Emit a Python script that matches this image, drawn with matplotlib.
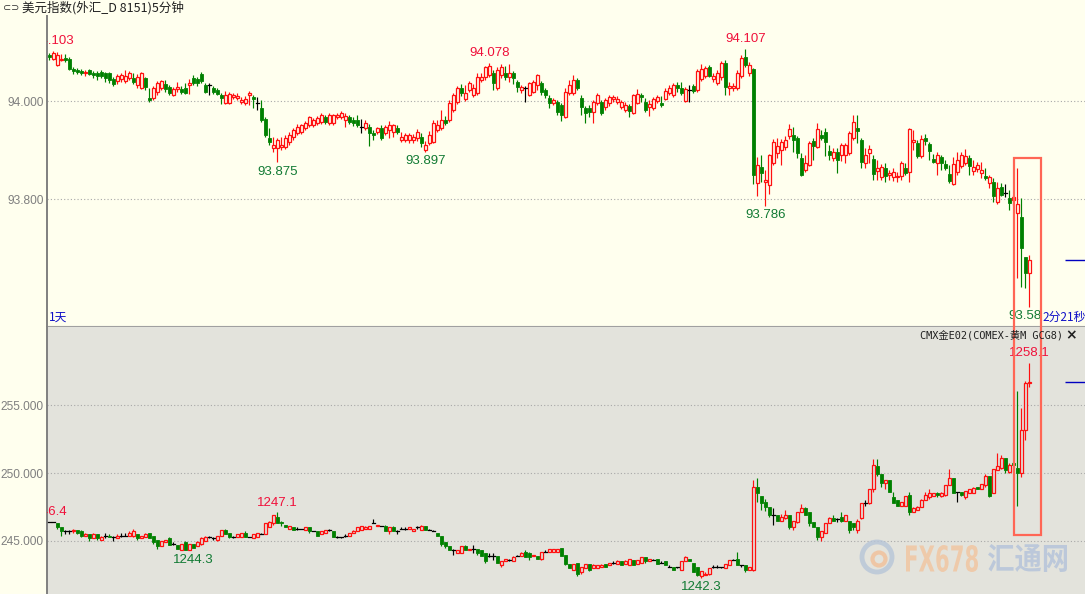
import numpy as np
import matplotlib.pyplot as plt
from matplotlib.patches import Rectangle, Ellipse, PathPatch
from matplotlib.collections import LineCollection
from matplotlib.transforms import offset_copy, Affine2D, IdentityTransform
from matplotlib.textpath import TextPath
from matplotlib.font_manager import FontProperties

plt.rcParams['font.family'] = ['Liberation Sans', 'DejaVu Sans']

W, H = 1085, 594
CJK = ['Noto Sans CJK SC', 'DejaVu Sans']
MONO = ['DejaVu Sans Mono', 'Noto Sans CJK SC']
RED = '#FF1010'
GREEN = '#008000'
TOP_BG = '#FFFFEE'
BOT_BG = '#E3E3DC'

# ---- US dollar index, 5 min candles ----
dxy_open = [
    94.094, 94.086, 94.073, 94.084, 94.088, 94.086, 94.065, 94.063, 94.061, 94.057,
    94.063, 94.057, 94.057, 94.059, 94.057, 94.057, 94.045, 94.041, 94.045, 94.041,
    94.047, 94.047, 94.033, 94.027, 94.047, 94.006, 94.006, 94.018, 94.027, 94.035,
    94.029, 94.012, 94.024, 94.024, 94.027, 94.033, 94.047, 94.045, 94.055, 94.033,
    94.033, 94.027, 94.022, 94.012, 93.996, 93.996, 94.008, 94.006, 93.998, 93.996,
    94.012, 94.008, 93.996, 93.986, 93.963, 93.924, 93.904, 93.904, 93.906, 93.906,
    93.916, 93.927, 93.935, 93.937, 93.945, 93.951, 93.951, 93.955, 93.957, 93.967,
    93.955, 93.955, 93.967, 93.967, 93.961, 93.967, 93.961, 93.961, 93.947, 93.945,
    93.947, 93.935, 93.937, 93.945, 93.935, 93.941, 93.937, 93.945, 93.920, 93.920,
    93.920, 93.920, 93.924, 93.927, 93.900, 93.914, 93.916, 93.941, 93.945, 93.961,
    93.961, 93.982, 93.998, 94.027, 94.004, 94.022, 94.012, 94.016, 94.043, 94.049,
    94.053, 94.057, 94.027, 94.053, 94.057, 94.049, 94.057, 94.039, 94.022, 94.027,
    94.012, 94.018, 94.033, 94.037, 94.022, 94.006, 93.996, 93.998, 93.992, 93.967,
    94.016, 94.016, 94.043, 94.006, 93.986, 93.986, 93.978, 93.996, 93.998, 93.988,
    93.996, 94.004, 93.998, 93.988, 93.982, 93.990, 93.976, 93.996, 94.012, 93.998,
    93.988, 93.986, 94.000, 93.996, 94.004, 94.016, 94.012, 94.033, 94.027, 94.000,
    94.022, 94.031, 94.022, 94.045, 94.051, 94.069, 94.045, 94.037, 94.049, 94.077,
    94.027, 94.027, 94.027, 94.051, 94.090, 94.057, 94.065, 93.833, 93.865, 93.835,
    93.829, 93.873, 93.894, 93.900, 93.906, 93.929, 93.931, 93.924, 93.884, 93.859,
    93.869, 93.918, 93.906, 93.931, 93.937, 93.898, 93.884, 93.896, 93.890, 93.890,
    93.894, 93.924, 93.945, 93.920, 93.873, 93.894, 93.882, 93.857, 93.845, 93.863,
    93.849, 93.845, 93.845, 93.847, 93.863, 93.855, 93.916, 93.914, 93.888, 93.924,
    93.912, 93.882, 93.873, 93.886, 93.871, 93.851, 93.831, 93.855, 93.867, 93.873,
    93.884, 93.857, 93.861, 93.853, 93.847, 93.833, 93.835, 93.794, 93.824, 93.812,
    93.802, 93.798, 93.772, 93.763, 93.682, 93.649,
]
dxy_close = [
    94.090, 94.098, 94.094, 94.086, 94.084, 94.065, 94.061, 94.059, 94.057, 94.059,
    94.055, 94.053, 94.051, 94.051, 94.047, 94.043, 94.035, 94.051, 94.053, 94.051,
    94.057, 94.039, 94.049, 94.057, 94.029, 94.002, 94.027, 94.037, 94.041, 94.024,
    94.016, 94.024, 94.029, 94.018, 94.016, 94.037, 94.037, 94.037, 94.041, 94.018,
    94.033, 94.018, 94.014, 94.006, 94.012, 94.014, 94.012, 94.010, 94.002, 94.004,
    94.016, 94.004, 93.996, 93.961, 93.931, 93.916, 93.910, 93.920, 93.910, 93.924,
    93.931, 93.941, 93.947, 93.951, 93.955, 93.967, 93.961, 93.965, 93.971, 93.957,
    93.971, 93.971, 93.971, 93.976, 93.969, 93.957, 93.955, 93.951, 93.947, 93.955,
    93.935, 93.931, 93.945, 93.924, 93.947, 93.951, 93.951, 93.937, 93.927, 93.931,
    93.931, 93.927, 93.937, 93.914, 93.910, 93.931, 93.955, 93.951, 93.961, 93.955,
    93.996, 94.012, 94.027, 94.016, 94.016, 94.037, 94.027, 94.049, 94.049, 94.069,
    94.071, 94.037, 94.063, 94.069, 94.049, 94.057, 94.047, 94.029, 94.029, 94.027,
    94.037, 94.039, 94.053, 94.018, 94.012, 93.996, 94.002, 93.978, 93.971, 94.018,
    94.033, 94.043, 94.027, 93.988, 93.976, 93.978, 93.998, 94.012, 93.976, 94.002,
    94.008, 94.008, 94.004, 93.998, 93.992, 93.980, 94.012, 94.014, 94.008, 93.982,
    93.994, 94.004, 94.008, 93.992, 94.020, 94.027, 94.033, 94.027, 94.016, 94.024,
    94.022, 94.020, 94.061, 94.065, 94.067, 94.051, 94.051, 94.057, 94.077, 94.029,
    94.031, 94.031, 94.057, 94.088, 94.073, 94.073, 93.849, 93.869, 93.853, 93.839,
    93.890, 93.916, 93.908, 93.916, 93.920, 93.943, 93.920, 93.894, 93.849, 93.873,
    93.914, 93.908, 93.943, 93.924, 93.916, 93.890, 93.896, 93.880, 93.910, 93.910,
    93.935, 93.957, 93.939, 93.875, 93.890, 93.902, 93.851, 93.863, 93.865, 93.847,
    93.853, 93.855, 93.847, 93.873, 93.853, 93.943, 93.920, 93.888, 93.922, 93.918,
    93.898, 93.875, 93.890, 93.873, 93.863, 93.837, 93.871, 93.880, 93.890, 93.888,
    93.867, 93.865, 93.869, 93.859, 93.843, 93.845, 93.806, 93.822, 93.808, 93.812,
    93.792, 93.804, 93.790, 93.700, 93.649, 93.676,
]
dxy_high = [
    94.098, 94.103, 94.100, 94.096, 94.096, 94.090, 94.069, 94.067, 94.065, 94.063,
    94.065, 94.061, 94.061, 94.063, 94.059, 94.059, 94.049, 94.055, 94.057, 94.063,
    94.061, 94.057, 94.055, 94.059, 94.049, 94.027, 94.031, 94.041, 94.043, 94.043,
    94.033, 94.029, 94.039, 94.031, 94.037, 94.045, 94.053, 94.049, 94.059, 94.037,
    94.037, 94.031, 94.027, 94.016, 94.020, 94.018, 94.016, 94.016, 94.008, 94.010,
    94.020, 94.012, 94.008, 94.002, 93.967, 93.945, 93.927, 93.924, 93.927, 93.931,
    93.937, 93.945, 93.953, 93.953, 93.959, 93.969, 93.965, 93.969, 93.976, 93.971,
    93.976, 93.973, 93.976, 93.980, 93.976, 93.971, 93.967, 93.971, 93.963, 93.961,
    93.953, 93.941, 93.947, 93.951, 93.951, 93.959, 93.953, 93.951, 93.937, 93.935,
    93.935, 93.933, 93.943, 93.935, 93.918, 93.939, 93.961, 93.961, 93.982, 93.969,
    94.002, 94.016, 94.031, 94.035, 94.033, 94.041, 94.035, 94.057, 94.057, 94.071,
    94.078, 94.063, 94.069, 94.075, 94.071, 94.075, 94.061, 94.043, 94.033, 94.031,
    94.039, 94.043, 94.055, 94.041, 94.027, 94.012, 94.006, 94.002, 93.996, 94.027,
    94.043, 94.053, 94.047, 94.012, 93.990, 93.992, 94.002, 94.016, 94.002, 94.006,
    94.012, 94.012, 94.010, 94.002, 93.998, 93.994, 94.014, 94.024, 94.016, 94.006,
    94.002, 94.008, 94.012, 94.010, 94.027, 94.033, 94.037, 94.039, 94.039, 94.029,
    94.033, 94.035, 94.065, 94.075, 94.071, 94.073, 94.057, 94.063, 94.082, 94.084,
    94.039, 94.037, 94.063, 94.094, 94.107, 94.080, 94.067, 93.886, 93.890, 93.859,
    93.892, 93.922, 93.924, 93.922, 93.929, 93.953, 93.947, 93.929, 93.894, 93.890,
    93.918, 93.924, 93.955, 93.941, 93.945, 93.910, 93.904, 93.904, 93.914, 93.914,
    93.939, 93.971, 93.971, 93.924, 93.904, 93.910, 93.890, 93.880, 93.871, 93.873,
    93.859, 93.863, 93.855, 93.878, 93.873, 93.945, 93.941, 93.920, 93.931, 93.933,
    93.916, 93.892, 93.896, 93.890, 93.880, 93.869, 93.886, 93.896, 93.896, 93.902,
    93.890, 93.880, 93.875, 93.875, 93.863, 93.849, 93.843, 93.835, 93.833, 93.831,
    93.818, 93.808, 93.863, 93.802, 93.682, 93.686,
]
dxy_low = [
    94.084, 94.084, 94.071, 94.082, 94.080, 94.063, 94.055, 94.055, 94.053, 94.051,
    94.053, 94.047, 94.043, 94.047, 94.039, 94.037, 94.031, 94.035, 94.039, 94.037,
    94.043, 94.035, 94.027, 94.024, 94.022, 93.998, 94.002, 94.012, 94.022, 94.018,
    94.012, 94.010, 94.018, 94.014, 94.014, 94.014, 94.033, 94.031, 94.037, 94.016,
    94.012, 94.014, 94.012, 93.994, 93.994, 93.994, 94.004, 94.002, 93.994, 93.992,
    93.992, 93.986, 93.982, 93.957, 93.927, 93.910, 93.896, 93.875, 93.900, 93.902,
    93.910, 93.920, 93.931, 93.933, 93.941, 93.947, 93.947, 93.951, 93.953, 93.953,
    93.951, 93.951, 93.963, 93.963, 93.947, 93.953, 93.949, 93.947, 93.935, 93.941,
    93.908, 93.920, 93.933, 93.920, 93.931, 93.924, 93.927, 93.933, 93.916, 93.916,
    93.914, 93.914, 93.918, 93.906, 93.897, 93.910, 93.914, 93.937, 93.941, 93.951,
    93.957, 93.978, 93.994, 94.010, 94.000, 94.018, 94.008, 94.012, 94.039, 94.043,
    94.049, 94.022, 94.022, 94.047, 94.043, 94.039, 94.035, 94.018, 94.016, 93.998,
    94.010, 94.016, 94.022, 94.012, 94.006, 93.986, 93.992, 93.971, 93.959, 93.965,
    94.012, 94.012, 94.022, 93.971, 93.955, 93.967, 93.955, 93.992, 93.971, 93.982,
    93.990, 93.998, 93.994, 93.984, 93.978, 93.967, 93.973, 93.994, 93.998, 93.978,
    93.969, 93.982, 93.996, 93.988, 94.002, 94.012, 94.008, 94.018, 94.012, 93.998,
    93.998, 94.016, 94.018, 94.041, 94.047, 94.049, 94.039, 94.033, 94.043, 94.012,
    94.012, 94.020, 94.022, 94.047, 94.069, 94.051, 93.831, 93.806, 93.835, 93.786,
    93.810, 93.869, 93.884, 93.869, 93.900, 93.922, 93.896, 93.884, 93.847, 93.855,
    93.867, 93.880, 93.904, 93.920, 93.888, 93.880, 93.878, 93.853, 93.878, 93.873,
    93.890, 93.920, 93.914, 93.863, 93.863, 93.873, 93.839, 93.839, 93.839, 93.835,
    93.839, 93.837, 93.835, 93.839, 93.849, 93.835, 93.900, 93.884, 93.884, 93.910,
    93.880, 93.873, 93.849, 93.859, 93.859, 93.833, 93.829, 93.849, 93.863, 93.869,
    93.849, 93.849, 93.855, 93.843, 93.839, 93.822, 93.794, 93.790, 93.806, 93.804,
    93.778, 93.788, 93.639, 93.621, 93.619, 93.580,
]

# ---- COMEX gold, same 5 min bars ----
gold_open = [
    1246.4, 1246.4, 1246.3, 1246.0, 1245.7, 1245.7, 1245.7, 1245.8, 1245.7, 1245.4,
    1245.5, 1245.2, 1245.5, 1245.1, 1245.4, 1245.4, 1245.3, 1245.2, 1245.4, 1245.4,
    1245.4, 1245.4, 1245.5, 1245.2, 1245.3, 1245.6, 1245.4, 1245.1, 1244.6, 1244.9,
    1245.2, 1244.8, 1244.7, 1244.3, 1244.9, 1244.3, 1244.8, 1244.6, 1244.8, 1245.0,
    1245.3, 1245.2, 1245.1, 1245.4, 1245.8, 1245.6, 1245.3, 1245.3, 1245.3, 1245.6,
    1245.3, 1245.2, 1245.3, 1245.5, 1245.5, 1246.0, 1246.3, 1246.8, 1246.4, 1246.2,
    1245.9, 1246.0, 1245.9, 1245.9, 1245.8, 1246.0, 1245.7, 1245.7, 1245.5, 1245.6,
    1245.8, 1245.7, 1245.3, 1245.3, 1245.4, 1245.4, 1245.6, 1245.7, 1245.8, 1245.9,
    1245.9, 1246.3, 1246.1, 1246.1, 1246.1, 1245.7, 1246.0, 1245.7, 1245.9, 1245.9,
    1245.9, 1245.7, 1246.0, 1245.8, 1246.1, 1245.8, 1245.7, 1245.6, 1245.4, 1244.9,
    1244.6, 1244.3, 1244.1, 1244.1, 1244.6, 1244.3, 1244.4, 1244.4, 1244.3, 1244.1,
    1243.9, 1243.9, 1243.9, 1243.2, 1243.5, 1243.6, 1243.5, 1243.9, 1243.9, 1244.2,
    1244.1, 1243.9, 1243.9, 1243.7, 1244.2, 1244.2, 1244.2, 1244.2, 1244.5, 1244.0,
    1243.3, 1242.9, 1243.4, 1242.7, 1243.0, 1243.3, 1243.0, 1243.0, 1243.1, 1243.3,
    1243.2, 1243.4, 1243.3, 1243.5, 1243.3, 1243.2, 1243.6, 1243.3, 1243.4, 1243.8,
    1243.5, 1243.6, 1243.7, 1243.4, 1243.5, 1243.1, 1243.1, 1243.1, 1242.9, 1243.5,
    1243.7, 1243.4, 1243.1, 1242.4, 1242.5, 1242.6, 1243.1, 1243.1, 1243.1, 1243.0,
    1243.2, 1243.6, 1243.7, 1243.2, 1243.2, 1242.9, 1242.9, 1249.0, 1248.3, 1247.9,
    1247.5, 1246.9, 1246.9, 1246.5, 1246.7, 1246.9, 1246.0, 1246.4, 1247.1, 1247.4,
    1247.1, 1246.4, 1246.0, 1245.3, 1245.6, 1246.3, 1246.7, 1246.6, 1246.8, 1246.5,
    1246.5, 1246.3, 1245.8, 1246.7, 1247.8, 1247.8, 1248.8, 1250.5, 1249.9, 1249.3,
    1249.5, 1248.2, 1248.0, 1247.6, 1247.6, 1248.4, 1247.1, 1247.3, 1247.5, 1248.0,
    1248.2, 1248.3, 1248.5, 1248.3, 1248.4, 1249.1, 1249.6, 1248.6, 1248.6, 1248.2,
    1248.5, 1248.5, 1249.0, 1248.8, 1249.1, 1249.8, 1248.5, 1250.2, 1250.4, 1251.1,
    1250.1, 1250.7, 1250.4, 1250.0, 1253.2, 1256.6,
]
gold_close = [
    1246.4, 1246.4, 1246.0, 1245.7, 1245.7, 1245.7, 1245.8, 1245.6, 1245.4, 1245.5,
    1245.2, 1245.5, 1245.2, 1245.3, 1245.4, 1245.3, 1245.3, 1245.4, 1245.4, 1245.4,
    1245.6, 1245.7, 1245.2, 1245.4, 1245.5, 1245.2, 1244.9, 1244.6, 1245.0, 1245.1,
    1244.7, 1244.8, 1244.4, 1244.8, 1244.3, 1244.8, 1244.5, 1244.9, 1245.2, 1245.3,
    1245.3, 1245.2, 1245.4, 1245.8, 1245.5, 1245.3, 1245.3, 1245.5, 1245.6, 1245.3,
    1245.3, 1245.5, 1245.6, 1245.5, 1246.3, 1246.4, 1246.9, 1246.3, 1246.3, 1246.0,
    1246.1, 1245.8, 1245.9, 1245.9, 1246.0, 1245.7, 1245.7, 1245.4, 1245.7, 1245.8,
    1245.8, 1245.3, 1245.3, 1245.3, 1245.4, 1245.6, 1245.7, 1246.0, 1246.1, 1246.0,
    1246.1, 1246.3, 1246.2, 1246.1, 1245.7, 1246.0, 1245.7, 1245.7, 1245.9, 1245.9,
    1246.0, 1245.9, 1246.0, 1246.1, 1245.8, 1245.8, 1245.7, 1245.4, 1244.8, 1244.6,
    1244.3, 1244.3, 1244.3, 1244.6, 1244.3, 1244.4, 1244.4, 1244.1, 1243.9, 1243.5,
    1243.9, 1243.9, 1243.4, 1243.5, 1243.7, 1243.6, 1243.8, 1243.9, 1244.1, 1243.8,
    1243.8, 1244.0, 1243.7, 1244.2, 1244.2, 1244.4, 1244.4, 1244.4, 1243.9, 1243.3,
    1243.0, 1243.3, 1242.6, 1243.1, 1243.3, 1242.9, 1243.2, 1243.2, 1243.2, 1243.1,
    1243.4, 1243.4, 1243.5, 1243.2, 1243.5, 1243.7, 1243.2, 1243.6, 1243.8, 1243.5,
    1243.7, 1243.6, 1243.3, 1243.4, 1243.2, 1243.1, 1242.9, 1243.1, 1243.5, 1243.8,
    1243.5, 1242.7, 1242.5, 1242.8, 1242.6, 1243.0, 1243.1, 1243.1, 1243.1, 1243.3,
    1243.6, 1243.6, 1243.2, 1243.2, 1242.9, 1243.1, 1249.0, 1248.5, 1247.8, 1247.5,
    1246.9, 1246.9, 1246.5, 1246.8, 1246.9, 1246.0, 1246.5, 1247.1, 1247.4, 1246.9,
    1246.3, 1246.0, 1245.3, 1245.7, 1246.3, 1246.7, 1246.5, 1246.6, 1246.5, 1246.9,
    1245.8, 1246.0, 1246.5, 1247.8, 1247.8, 1248.8, 1250.6, 1249.9, 1249.3, 1249.5,
    1248.6, 1247.8, 1247.6, 1247.9, 1248.3, 1247.1, 1247.4, 1247.5, 1248.0, 1248.4,
    1248.5, 1248.5, 1248.4, 1248.5, 1249.1, 1249.6, 1248.5, 1248.6, 1248.4, 1248.7,
    1248.8, 1248.9, 1248.8, 1249.2, 1249.8, 1248.3, 1250.3, 1250.5, 1251.1, 1250.2,
    1250.6, 1250.6, 1250.0, 1253.2, 1256.6, 1256.7,
]
gold_high = [
    1246.4, 1246.4, 1246.3, 1246.0, 1245.8, 1245.8, 1245.9, 1245.8, 1245.8, 1245.6,
    1245.5, 1245.6, 1245.5, 1245.4, 1245.6, 1245.5, 1245.4, 1245.5, 1245.6, 1245.6,
    1245.7, 1245.9, 1245.5, 1245.4, 1245.6, 1245.6, 1245.4, 1245.1, 1245.0, 1245.1,
    1245.3, 1244.9, 1244.7, 1244.8, 1245.0, 1244.8, 1244.8, 1245.0, 1245.3, 1245.4,
    1245.4, 1245.3, 1245.4, 1245.8, 1245.9, 1245.6, 1245.4, 1245.5, 1245.6, 1245.7,
    1245.3, 1245.5, 1245.6, 1245.6, 1246.3, 1246.5, 1246.9, 1247.1, 1246.5, 1246.2,
    1246.1, 1246.0, 1246.0, 1245.9, 1246.0, 1246.0, 1245.7, 1245.7, 1245.7, 1245.8,
    1245.9, 1245.7, 1245.4, 1245.3, 1245.5, 1245.6, 1245.8, 1246.0, 1246.1, 1246.1,
    1246.1, 1246.6, 1246.2, 1246.1, 1246.2, 1246.0, 1246.1, 1245.8, 1246.0, 1246.0,
    1246.0, 1245.9, 1246.1, 1246.2, 1246.1, 1245.9, 1245.8, 1245.6, 1245.4, 1244.9,
    1244.6, 1244.4, 1244.3, 1244.6, 1244.7, 1244.4, 1244.7, 1244.4, 1244.3, 1244.1,
    1244.1, 1244.1, 1243.9, 1243.5, 1243.7, 1243.7, 1243.9, 1244.0, 1244.2, 1244.3,
    1244.2, 1244.0, 1243.9, 1244.2, 1244.3, 1244.4, 1244.4, 1244.4, 1244.5, 1244.0,
    1243.3, 1243.3, 1243.4, 1243.1, 1243.3, 1243.3, 1243.3, 1243.2, 1243.3, 1243.3,
    1243.4, 1243.5, 1243.6, 1243.5, 1243.6, 1243.7, 1243.6, 1243.6, 1243.8, 1243.8,
    1243.7, 1243.7, 1243.7, 1243.5, 1243.5, 1243.2, 1243.1, 1243.1, 1243.5, 1243.9,
    1243.7, 1243.4, 1243.1, 1242.8, 1242.7, 1243.0, 1243.2, 1243.2, 1243.1, 1243.3,
    1243.6, 1243.7, 1244.2, 1243.2, 1243.2, 1243.1, 1249.5, 1249.6, 1248.3, 1248.1,
    1247.5, 1247.4, 1246.9, 1247.0, 1247.3, 1246.9, 1246.5, 1247.1, 1247.7, 1247.5,
    1247.1, 1246.4, 1246.0, 1245.7, 1246.3, 1246.8, 1246.9, 1246.7, 1247.1, 1246.9,
    1246.5, 1246.3, 1246.6, 1247.8, 1248.0, 1248.8, 1251.0, 1251.0, 1249.9, 1249.5,
    1249.5, 1248.6, 1248.0, 1247.9, 1248.3, 1248.6, 1247.5, 1247.6, 1248.1, 1248.6,
    1248.8, 1248.5, 1248.6, 1248.6, 1249.1, 1250.3, 1249.6, 1248.6, 1248.6, 1248.7,
    1248.8, 1249.0, 1249.0, 1249.2, 1249.9, 1249.8, 1250.3, 1251.5, 1251.3, 1251.1,
    1250.7, 1250.8, 1256.0, 1254.8, 1256.8, 1258.1,
]
gold_low = [
    1246.4, 1246.4, 1245.9, 1245.4, 1245.5, 1245.5, 1245.6, 1245.5, 1245.3, 1245.4,
    1245.0, 1245.2, 1245.1, 1245.1, 1245.2, 1245.3, 1245.0, 1245.2, 1245.3, 1245.4,
    1245.4, 1245.3, 1245.1, 1245.2, 1245.3, 1245.2, 1244.8, 1244.4, 1244.6, 1244.9,
    1244.7, 1244.7, 1244.4, 1244.3, 1244.3, 1244.3, 1244.5, 1244.6, 1244.7, 1245.0,
    1245.2, 1245.1, 1245.0, 1245.4, 1245.5, 1245.2, 1245.2, 1245.3, 1245.3, 1245.3,
    1245.3, 1245.2, 1245.3, 1245.5, 1245.5, 1246.0, 1246.2, 1246.3, 1246.1, 1246.0,
    1245.9, 1245.8, 1245.8, 1245.9, 1245.8, 1245.6, 1245.7, 1245.4, 1245.5, 1245.6,
    1245.7, 1245.3, 1245.2, 1245.2, 1245.3, 1245.4, 1245.6, 1245.7, 1245.8, 1245.9,
    1245.9, 1246.3, 1246.1, 1246.1, 1245.7, 1245.5, 1245.7, 1245.5, 1245.9, 1245.8,
    1245.9, 1245.7, 1245.9, 1245.8, 1245.8, 1245.8, 1245.7, 1245.4, 1244.6, 1244.5,
    1244.3, 1244.0, 1244.1, 1244.1, 1244.3, 1244.3, 1244.1, 1244.0, 1243.9, 1243.4,
    1243.8, 1243.6, 1243.4, 1243.1, 1243.5, 1243.5, 1243.5, 1243.9, 1243.9, 1243.8,
    1243.6, 1243.9, 1243.7, 1243.6, 1244.2, 1244.2, 1244.2, 1244.2, 1243.9, 1243.2,
    1243.0, 1242.9, 1242.4, 1242.6, 1243.0, 1242.8, 1243.0, 1243.0, 1243.1, 1243.1,
    1243.2, 1243.3, 1243.3, 1243.2, 1243.3, 1243.2, 1243.2, 1243.3, 1243.4, 1243.4,
    1243.5, 1243.6, 1243.3, 1243.4, 1243.2, 1243.1, 1242.9, 1243.0, 1242.9, 1243.5,
    1243.5, 1242.7, 1242.4, 1242.3, 1242.5, 1242.5, 1243.0, 1243.0, 1243.0, 1243.0,
    1243.2, 1243.6, 1243.2, 1243.1, 1242.7, 1242.9, 1242.8, 1247.9, 1247.3, 1247.2,
    1246.8, 1246.2, 1246.5, 1246.5, 1246.6, 1245.9, 1245.8, 1246.3, 1247.1, 1246.9,
    1246.1, 1246.0, 1245.1, 1245.0, 1245.6, 1246.3, 1246.5, 1246.4, 1246.4, 1246.5,
    1245.6, 1245.8, 1245.6, 1246.6, 1247.6, 1247.7, 1248.6, 1249.8, 1249.0, 1248.8,
    1248.6, 1247.8, 1247.6, 1247.6, 1247.6, 1246.9, 1247.1, 1247.3, 1247.5, 1248.0,
    1248.1, 1248.3, 1248.2, 1248.2, 1248.3, 1249.1, 1248.5, 1247.9, 1248.3, 1248.1,
    1248.5, 1248.5, 1248.8, 1248.8, 1249.0, 1248.2, 1248.5, 1250.2, 1250.3, 1250.0,
    1250.0, 1250.6, 1247.6, 1249.7, 1252.4, 1256.3,
]

# extreme-value labels: (bar index, price, text, above?, horizontal shift in points)
dxy_marks = [(1, 94.103, '94.103', True, 0), (57, 93.875, '93.875', False, 0),
             (94, 93.897, '93.897', False, 0), (110, 94.078, '94.078', True, 0),
             (174, 94.107, '94.107', True, 0), (179, 93.786, '93.786', False, 0),
             (245, 93.580, '93.58', False, -3)]
gold_marks = [(-0.6, 1246.4, '1246.4', True, 0), (36, 1244.3, '1244.3', False, 0),
              (57, 1247.1, '1247.1', True, 0), (163, 1242.3, '1242.3', False, 0),
              (245, 1258.1, '1258.1', True, 0)]

dxy_ticks = [93.8, 94.0]
dxy_tick_labels = ['93.800', '94.000']
gold_ticks = [1245, 1250, 1255]
gold_tick_labels = ['245.000', '250.000', '255.000']


def box(x0, y0, x1, y1):
    return [x0 / W, 1 - y1 / H, (x1 - x0) / W, (y1 - y0) / H]


def draw_candles(ax, o, c, h, l, bg):
    o, c, h, l = map(np.asarray, (o, c, h, l))
    top = np.maximum(o, c)
    bot = np.minimum(o, c)
    h = np.maximum(h, top)
    l = np.minimum(l, bot)
    segs, cols = [], []
    for i in range(len(o)):
        col = RED if c[i] > o[i] else (GREEN if c[i] < o[i] else 'black')
        segs += [[(i, top[i]), (i, h[i])], [(i, l[i]), (i, bot[i])]]
        cols += [col, col]
        if c[i] > o[i]:
            ax.add_patch(Rectangle((i - 0.33, o[i]), 0.66, c[i] - o[i],
                                   facecolor=bg, edgecolor=RED, lw=0.9, zorder=3))
        elif c[i] < o[i]:
            ax.add_patch(Rectangle((i - 0.38, c[i]), 0.76, o[i] - c[i],
                                   facecolor=GREEN, edgecolor=GREEN, lw=0.6, zorder=3))
        else:
            ax.plot([i - 0.45, i + 0.45], [o[i], o[i]], color='black', lw=0.9, zorder=3)
    ax.add_collection(LineCollection(segs, colors=cols, linewidths=0.85, zorder=2))


def mark(ax, marks, fig):
    for i, p, txt, above, dx in marks:
        tr = offset_copy(ax.transData, fig=fig, x=dx, y=2.5 if above else -2.5,
                         units='points')
        ax.text(i, p, txt, transform=tr, ha='center',
                va='bottom' if above else 'top', fontsize=9.5,
                color='#F0103A' if above else '#117A33', clip_on=True, zorder=5)


def style(ax, ticks, labels):
    ax.set_yticks(ticks)
    ax.set_yticklabels(labels)
    ax.set_xticks([])
    ax.tick_params(axis='y', length=0, pad=2.5, labelsize=8.6, labelcolor='#7F7F7F')
    for t in ticks:
        ax.axhline(t, color='#A8A8A8', lw=0.8, ls=(0, (1, 2)), zorder=1)
    for s in ['top', 'right']:
        ax.spines[s].set_visible(False)
    ax.spines['left'].set_color('#808080')
    ax.spines['left'].set_linewidth(1.4)


def stretched_text(fig, s, x0, y0, x1, y1, color, family):
    # watermark text fitted into a pixel box (tall, narrow lettering)
    tp = TextPath((0, 0), s, size=20, prop=FontProperties(family=family, weight='bold'))
    ext = tp.get_extents()
    tr = (Affine2D().translate(-ext.x0, -ext.y0)
          .scale((x1 - x0) / ext.width, (y1 - y0) / ext.height)
          .translate(x0, H - y1))
    fig.add_artist(PathPatch(tr.transform_path(tp), transform=IdentityTransform(),
                             fc=color, ec='none', alpha=0.75))


fig = plt.figure(figsize=(W / 100, H / 100), dpi=100, facecolor=TOP_BG)

xlim = (-0.6, 258.9)

ax1 = fig.add_axes(box(47, 16, 1085, 326), facecolor=TOP_BG)
ax1.set_xlim(*xlim)
ax1.set_ylim(93.541, 94.1735)
style(ax1, dxy_ticks, dxy_tick_labels)
ax1.spines['bottom'].set_color('#A0A0A0')
draw_candles(ax1, dxy_open, dxy_close, dxy_high, dxy_low, TOP_BG)
mark(ax1, dxy_marks, fig)
ax1.hlines(dxy_close[-1], 254, xlim[1], color='#0000C0', lw=1)

ax2 = fig.add_axes(box(47, 327, 1085, 594), facecolor=BOT_BG)
ax2.set_xlim(*xlim)
ax2.set_ylim(1241.10, 1260.74)
style(ax2, gold_ticks, gold_tick_labels)
ax2.spines['bottom'].set_visible(False)
draw_candles(ax2, gold_open, gold_close, gold_high, gold_low, BOT_BG)
mark(ax2, gold_marks, fig)
ax2.hlines(gold_close[-1], 254, xlim[1], color='#0000C0', lw=1)

# header texts
fig.text(3 / W, 1 - 8 / H, '⊂⊃', fontsize=7, va='center', color='#333333',
         family='DejaVu Sans')
fig.text(22 / W, 1 - 8 / H, '美元指数(外汇_D 8151)5分钟', fontsize=9,
         va='center', family=CJK, color='#202020')
fig.text(49 / W, 1 - 317 / H, '1天', fontsize=8.5, va='center', family=CJK, color='#1010C8')
fig.text(1042 / W, 1 - 317 / H, '2分21秒', fontsize=8.5, va='center', family=CJK,
         color='#1010C8')
fig.text(1063 / W, 1 - 335 / H, 'CMX金E02(COMEX-黄M GCG8)', fontsize=7.4, ha='right',
         va='center', family=MONO, color='#202020')
fig.text(1071 / W, 1 - 335 / H, '×', fontsize=10, ha='center', va='center',
         weight='bold', color='#202020', family='DejaVu Sans')

# watermark
fig.add_artist(Ellipse((877 / W, 1 - 557 / H), 30 / W, 30 / H, transform=fig.transFigure,
                       fill=False, edgecolor='#B7C5D8', lw=3.5, alpha=0.8))
fig.add_artist(Ellipse((879 / W, 1 - 559 / H), 13 / W, 13 / H, transform=fig.transFigure,
                       fill=False, edgecolor='#F2BF98', lw=3, alpha=0.8))
stretched_text(fig, 'FX678', 906, 545, 978, 572, '#F3C29A', 'DejaVu Sans')
stretched_text(fig, '汇通网', 988, 544, 1067, 572, '#AFC0DA', 'Noto Sans CJK SC')

# highlight box around the last bars
fig.add_artist(Rectangle((1014 / W, 1 - 535 / H), 27 / W, 377 / H, transform=fig.transFigure,
                         fill=False, edgecolor='#FF6655', lw=1.6))

fig.savefig('out.png', dpi=100, facecolor=TOP_BG)
